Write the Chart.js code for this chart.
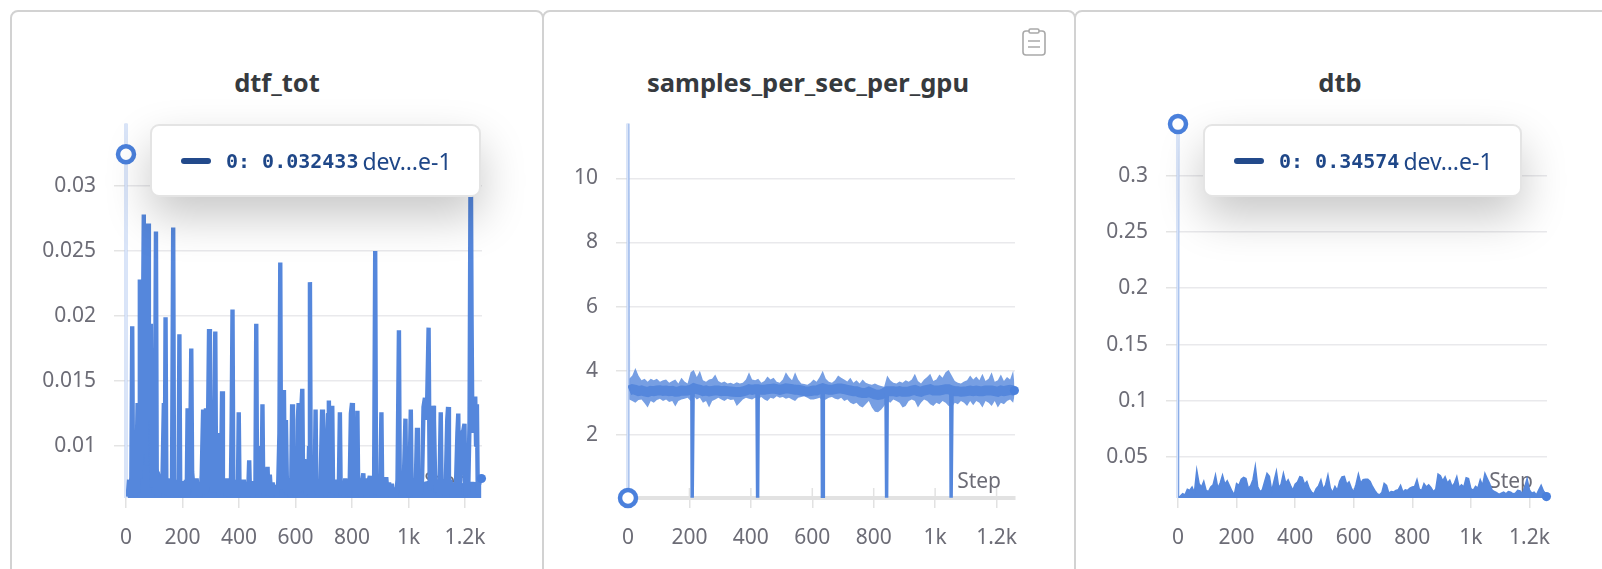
<!DOCTYPE html>
<html>
<head>
<meta charset="utf-8">
<title>Run charts</title>
<script src="https://cdn.jsdelivr.net/npm/chart.js@4"></script>
<style>
html, body { margin: 0; width: 1602px; height: 569px; overflow: hidden; background: #fff; font-family: "Noto Sans", sans-serif; }
.card { position: absolute; top: 10px; height: 620px; box-sizing: border-box; border: 2px solid #d2d2d2; border-radius: 8px; background: #fff; }
.title { position: absolute; top: 64px; width: 400px; margin: 0; text-align: center; font-size: 25.5px; line-height: 36px; font-weight: 700; color: #363a3e; }
canvas { position: absolute; top: 93px; }
.hover-box { position: absolute; top: 124px; height: 73px; box-sizing: border-box; border: 2px solid #e4e4e4; border-radius: 9px; background: #fff;
  box-shadow: 0 20px 45px rgba(0,0,0,.22); display: flex; align-items: center; padding-left: 29px; color: #1f4788; white-space: nowrap; }
.hover-box i { display: inline-block; width: 30px; height: 6px; border-radius: 3px; background: #234a8b; margin-right: 15px; }
.hover-box b { font: 700 20px "DejaVu Sans Mono", monospace; margin-right: 4px; }
.hover-box span { font-size: 23px; }
#clip { position: absolute; left: 1022px; top: 28px; }
</style>
</head>
<body>
<div class="card" style="left:10px;width:534px"></div>
<div class="card" style="left:542px;width:534px"></div>
<div class="card" style="left:1074px;width:600px"></div>
<h3 class="title" style="left:77px">dtf_tot</h3>
<h3 class="title" style="left:608px">samples_per_sec_per_gpu</h3>
<h3 class="title" style="left:1140px">dtb</h3>
<canvas id="chart-dtf" style="left:11px"></canvas>
<canvas id="chart-gpu" style="left:543px"></canvas>
<canvas id="chart-dtb" style="left:1076px"></canvas>
<div class="hover-box" style="left:150px;width:331px"><i></i><b>0: 0.032433</b><span>dev…e-1</span></div>
<div class="hover-box" style="left:1203px;width:319px"><i></i><b>0: 0.34574</b><span>dev…e-1</span></div>
<svg id="clip" width="24" height="28" viewBox="0 0 24 28" fill="none" stroke="#a9a9a9" stroke-width="1.6">
  <rect x="1" y="3" width="22" height="24" rx="3"/><rect x="7" y="1" width="10" height="4" rx="1.5" fill="#fff"/>
  <path d="M6 13h12M6 19h12"/>
</svg>
<script>
const LINE_BLUE = '#5587dc';
const RING_BLUE = '#4a80dc';
const TICK_GREY = '#6c6c76';

const stepTicks = [0, 200, 400, 600, 800, 1000, 1200];
const stepLabels = ['0', '200', '400', '600', '800', '1k', '1.2k'];

const dtfTicks = [0.01, 0.015, 0.02, 0.025, 0.03];
const gpuTicks = [2, 4, 6, 8, 10];
const dtbTicks = [0.05, 0.1, 0.15, 0.2, 0.25, 0.3];

const dtfSteps = [
    0,6,11,15,19,22,25,29,33,37,
    41,44,47,49,52,55,58,60,63,66,
    69,72,75,78,81,85,88,91,95,98,
    102,106,109,113,117,121,125,129,134,137,
    140,143,147,151,155,159,163,167,170,174,
    178,182,186,189,192,196,200,204,208,212,
    215,218,221,225,228,231,234,238,242,246,
    250,254,259,264,268,273,276,280,283,286,
    290,294,297,301,305,309,313,316,319,323,
    327,331,336,340,343,347,352,357,362,367,
    371,374,377,380,384,388,392,396,399,402,
    407,412,417,422,427,432,436,439,444,449,
    454,458,461,464,468,472,476,480,483,486,
    491,496,501,504,509,514,519,524,529,534,
    539,543,546,549,552,555,559,562,566,570,
    575,580,585,588,591,595,600,605,608,611,
    615,619,622,624,627,631,635,639,644,648,
    651,654,658,663,668,671,674,679,684,689,
    694,697,702,707,712,715,718,722,726,730,
    733,738,743,748,753,757,760,765,770,776,
    781,786,791,796,800,803,807,811,815,819,
    822,827,832,836,840,843,848,853,858,863,
    868,873,878,882,885,890,895,900,904,907,
    912,917,921,926,931,936,941,946,951,956,
    961,966,969,973,978,983,989,992,997,1002,
    1005,1008,1011,1016,1021,1026,1030,1033,1038,1043,
    1048,1053,1058,1062,1066,1071,1075,1080,1084,1087,
    1090,1095,1100,1105,1110,1114,1117,1122,1127,1132,
    1137,1140,1143,1148,1153,1158,1163,1168,1173,1176,
    1179,1184,1189,1194,1198,1201,1206,1211,1216,1220,
    1223,1226,1230,1233,1236,1239,1242,1245,1250,1258
];
const dtfValues = [
    .032433,.0061,.0074,.0062,.0076,.0192,.0063,.0073,.0061,.0078,
    .0133,.0064,.0105,.0228,.0075,.0133,.0095,.0190,.0278,.0110,
    .0200,.0085,.0160,.0271,.0120,.0150,.0194,.0068,.0133,.0063,
    .0072,.0265,.0062,.0076,.0061,.0074,.0064,.0073,.0133,.0063,
    .0199,.0062,.0075,.0061,.0073,.0062,.0075,.0268,.0063,.0074,
    .0061,.0072,.0064,.0186,.0062,.0071,.0061,.0073,.0062,.0074,
    .0063,.0129,.0063,.0076,.0110,.0175,.0080,.0070,.0061,.0066,
    .0075,.0062,.0072,.0061,.0078,.0128,.0070,.0064,.0129,.0066,
    .0110,.0190,.0068,.0120,.0064,.0090,.0140,.0188,.0064,.0110,
    .0062,.0076,.0066,.0142,.0064,.0073,.0062,.0075,.0061,.0074,
    .0063,.0120,.0205,.0064,.0072,.0062,.0074,.0063,.0126,.0062,
    .0073,.0061,.0074,.0062,.0072,.0061,.0089,.0062,.0073,.0061,
    .0072,.0064,.0194,.0063,.0100,.0064,.0075,.0070,.0132,.0062,
    .0075,.0063,.0084,.0062,.0078,.0061,.0072,.0062,.0070,.0061,
    .0073,.0110,.0241,.0068,.0130,.0090,.0143,.0064,.0120,.0063,
    .0075,.0061,.0074,.0132,.0063,.0076,.0062,.0075,.0120,.0133,
    .0064,.0110,.0135,.0144,.0066,.0090,.0062,.0085,.0063,.0100,
    .0226,.0065,.0080,.0066,.0072,.0128,.0063,.0074,.0062,.0073,
    .0128,.0062,.0075,.0061,.0110,.0125,.0135,.0064,.0120,.0131,
    .0063,.0074,.0062,.0073,.0064,.0126,.0062,.0072,.0061,.0075,
    .0063,.0072,.0061,.0125,.0133,.0066,.0090,.0062,.0074,.0127,
    .0063,.0075,.0061,.0073,.0079,.0062,.0075,.0063,.0072,.0077,
    .0062,.0075,.0064,.0250,.0063,.0074,.0062,.0073,.0126,.0062,
    .0072,.0061,.0076,.0062,.0072,.0061,.0071,.0060,.0068,.0061,
    .0074,.0189,.0066,.0075,.0062,.0070,.0121,.0064,.0074,.0062,
    .0090,.0128,.0064,.0075,.0061,.0073,.0114,.0062,.0074,.0063,
    .0075,.0130,.0137,.0120,.0135,.0191,.0066,.0125,.0070,.0131,
    .0120,.0064,.0074,.0062,.0073,.0126,.0063,.0074,.0062,.0072,
    .0120,.0130,.0063,.0074,.0061,.0072,.0062,.0071,.0110,.0125,
    .0063,.0074,.0110,.0112,.0117,.0062,.0073,.0063,.0120,.0346,
    .0200,.0110,.0138,.0120,.0138,.0100,.0132,.0063,.0072,.0075
];
// solid floor the spikes stand on
const dtfBedSteps = [
    6,30,55,80,105,130,155,180,205,230,
    255,280,305,330,355,380,405,430,455,480,
    505,530,555,580,605,630,655,680,705,730,
    755,780,805,830,855,880,905,930,955,980,
    1005,1030,1055,1080,1105,1130,1155,1180,1205,1230,
    1258
];
const dtfBedValues = [
    .0070,.0072,.0120,.0130,.0085,.0074,.0072,.0072,.0070,.0074,
    .0066,.0070,.0074,.0073,.0072,.0071,.0070,.0072,.0070,.0073,
    .0070,.0067,.0074,.0073,.0071,.0072,.0068,.0070,.0069,.0071,
    .0070,.0069,.0071,.0072,.0070,.0071,.0070,.0068,.0064,.0070,
    .0072,.0071,.0072,.0073,.0071,.0070,.0069,.0070,.0072,.0072,
    .0071
];

const gpuSteps = [
    4,14,24,34,44,54,64,74,84,94,
    104,114,124,134,144,154,164,174,184,194,
    204,214,224,234,244,254,264,274,284,294,
    304,314,324,334,344,354,364,374,384,394,
    404,414,424,434,444,454,464,474,484,494,
    504,514,524,534,544,554,564,574,584,594,
    604,614,624,634,644,654,664,674,684,694,
    704,714,724,734,744,754,764,774,784,794,
    804,814,824,834,844,854,864,874,884,894,
    904,914,924,934,944,954,964,974,984,994,
    1004,1014,1024,1034,1044,1054,1064,1074,1084,1094,
    1104,1114,1124,1134,1144,1154,1164,1174,1184,1194,
    1204,1214,1224,1234,1244,1254,1258
];
const gpuMain = [
    3.38,3.42,3.4,3.36,3.38,3.35,3.33,3.37,3.36,3.38,
    3.39,3.37,3.38,3.36,3.37,3.34,3.35,3.38,3.37,3.38,
    3.4,3.45,3.42,3.4,3.36,3.38,3.35,3.37,3.38,3.38,
    3.36,3.37,3.36,3.35,3.34,3.33,3.33,3.35,3.38,3.42,
    3.4,3.42,3.42,3.4,3.4,3.42,3.43,3.44,3.42,3.4,
    3.42,3.45,3.44,3.42,3.4,3.4,3.38,3.36,3.35,3.36,
    3.38,3.38,3.42,3.45,3.42,3.4,3.4,3.42,3.44,3.44,
    3.42,3.4,3.38,3.36,3.36,3.32,3.3,3.3,3.34,3.3,
    3.26,3.24,3.26,3.3,3.36,3.36,3.36,3.34,3.36,3.34,
    3.34,3.35,3.38,3.4,3.36,3.34,3.38,3.4,3.42,3.38,
    3.38,3.38,3.4,3.42,3.42,3.38,3.36,3.36,3.34,3.35,
    3.36,3.38,3.36,3.38,3.36,3.36,3.38,3.38,3.38,3.36,
    3.34,3.38,3.36,3.38,3.4,3.38,3.38
];
const gpuHigh = [
    3.75,3.85,4.08,3.85,3.7,3.75,3.65,3.75,3.7,3.75,
    3.65,3.7,3.72,3.62,3.68,3.72,3.6,3.78,3.66,3.6,
    3.95,4.02,3.8,4.0,3.7,3.65,3.72,3.75,3.88,3.68,
    3.62,3.66,3.6,3.62,3.58,3.64,3.6,3.62,3.72,3.95,
    3.72,3.7,3.75,3.62,3.68,3.82,3.72,3.78,3.65,3.62,
    3.72,3.95,3.8,3.7,3.95,3.72,3.6,3.58,3.56,3.62,
    3.72,3.65,3.8,4.0,3.75,3.65,3.62,3.7,3.85,3.78,
    3.72,3.66,3.78,3.62,3.7,3.6,3.72,3.62,3.58,3.56,
    3.6,3.55,3.52,3.5,3.85,3.7,3.62,3.6,3.66,3.62,
    3.7,3.65,3.72,3.9,3.68,3.6,3.72,3.8,3.9,3.68,
    3.72,3.88,3.78,3.95,4.02,3.85,3.68,3.62,3.6,3.66,
    3.7,3.85,3.72,3.82,3.7,3.9,3.68,3.75,3.95,3.65,
    3.7,3.88,3.68,3.8,3.72,4.0,3.6
];
const gpuLow = [
    3.1,3.05,3.0,3.08,3.1,2.98,2.85,3.05,3.0,3.08,
    3.12,3.05,3.1,3.02,3.05,2.88,3.05,3.1,3.12,3.15,
    3.05,3.2,3.1,3.15,3.0,3.05,2.85,3.05,3.1,3.15,
    3.1,3.05,3.12,3.08,3.1,2.9,3.0,3.1,3.15,3.12,
    3.1,3.15,3.12,3.18,3.1,3.05,3.15,3.12,3.2,3.15,
    3.18,3.12,3.15,3.1,3.05,3.15,3.18,3.2,3.15,3.1,
    3.1,3.12,3.15,3.05,3.1,3.15,3.18,3.12,3.1,3.15,
    3.05,3.1,3.0,2.95,3.0,2.9,2.85,2.95,3.05,2.85,
    2.72,2.7,2.78,2.9,3.05,3.0,3.1,3.05,3.0,2.85,
    2.9,3.05,3.1,3.05,2.85,3.0,3.1,3.05,2.95,2.9,
    3.0,2.95,3.05,3.0,2.9,2.85,3.0,2.95,3.05,3.0,
    2.9,3.05,2.92,3.05,3.0,2.85,3.05,3.0,2.9,3.05,
    2.85,3.0,2.95,3.05,3.1,3.0,3.2
];
// first spike and the periodic drops to zero
const gpuSpikeSteps = [0, 1, 4];
const gpuSpikeValues = [0.025, 11.71, 3.38];
const gpuDipSteps = [208,209,211,212,213, 420,421,423,424,425, 632,633,635,636,637, 840,841,843,844,845, 1051,1052,1054,1055];
const gpuDipValues = [3.3,0.03,0.03,3.3,null, 3.3,0.03,0.03,3.3,null, 3.3,0.03,0.03,3.3,null, 3.3,0.03,0.03,3.3,null, 3.3,0.03,0.03,3.3];

const dtbSteps = [
    0,3,
    8,16,24,32,40,48,56,64,72,80,
    88,96,104,112,120,128,136,144,152,160,
    168,176,184,192,200,208,216,224,232,240,
    248,256,264,272,280,288,296,304,312,320,
    328,336,344,352,360,368,376,384,392,400,
    408,416,424,432,440,448,456,464,472,480,
    488,496,504,512,520,528,536,544,552,560,
    568,576,584,592,600,608,616,624,632,640,
    648,656,664,672,680,688,696,704,712,720,
    728,736,744,752,760,768,776,784,792,800,
    808,816,824,832,840,848,856,864,872,880,
    888,896,904,912,920,928,936,944,952,960,
    968,976,984,992,1000,1008,1016,1024,1032,1040,
    1048,1056,1064,1072,1080,1088,1096,1104,1112,1120,
    1128,1136,1144,1152,1160,1168,1176,1184,1192,1200,
    1208,1216,1224,1232,1240,1248,1256,1258
];
const dtbValues = [
    .34574,.0145,
    .0155,.0175,.0165,.0215,.0205,.0235,.0185,.0385,.0265,.0235,
    .0285,.0205,.0195,.0235,.0255,.0340,.0225,.0270,.0340,.0260,
    .0290,.0245,.0200,.0165,.0265,.0250,.0305,.0320,.0310,.0225,
    .0245,.0300,.0420,.0240,.0195,.0210,.0285,.0356,.0330,.0200,
    .0290,.0376,.0230,.0260,.0356,.0270,.0300,.0250,.0205,.0260,
    .0280,.0326,.0320,.0260,.0285,.0225,.0190,.0175,.0220,.0245,
    .0297,.0215,.0255,.0340,.0225,.0185,.0240,.0205,.0285,.0325,
    .0330,.0260,.0280,.0225,.0190,.0260,.0350,.0270,.0300,.0305,
    .0305,.0285,.0240,.0205,.0175,.0165,.0185,.0267,.0250,.0180,
    .0195,.0190,.0205,.0210,.0250,.0190,.0210,.0205,.0225,.0235,
    .0240,.0300,.0215,.0205,.0265,.0235,.0255,.0230,.0195,.0215,
    .0350,.0335,.0290,.0326,.0270,.0295,.0240,.0270,.0326,.0230,
    .0255,.0235,.0317,.0310,.0220,.0205,.0240,.0225,.0300,.0250,
    .0356,.0310,.0265,.0210,.0195,.0185,.0170,.0180,.0190,.0175,
    .0195,.0190,.0175,.0180,.0205,.0200,.0175,.0235,.0310,.0210,
    .0180,.0190,.0165,.0210,.0250,.0200,.0175,.0150
];

const toXY = (steps, values) => steps.map((s, i) => ({ x: s, y: values[i] }));

// the jump from the first logged value runs under the hover line, so hide that one segment
const hideFirstSegment = { borderColor: c => (c.p0DataIndex === 0 ? 'transparent' : undefined) };

// x tick stubs above the baseline, hover line at step 0, and the "Step" axis word
const axisExtras = {
    id: 'axisExtras',
    beforeDatasetsDraw(chart) {
        const { ctx, chartArea, scales } = chart;
        ctx.save();
        ctx.strokeStyle = '#e2e2e2';
        ctx.lineWidth = 1.5;
        stepTicks.forEach(t => {
            const px = scales.x.getPixelForValue(t);
            ctx.beginPath();
            ctx.moveTo(px, chartArea.bottom);
            ctx.lineTo(px, chartArea.bottom - 10);
            ctx.stroke();
        });
        ctx.font = '21px "Noto Sans"';
        ctx.fillStyle = TICK_GREY;
        ctx.textAlign = 'right';
        ctx.fillText('Step', chartArea.right - 14, chartArea.bottom - 10);
        const x0 = scales.x.getPixelForValue(0);
        ctx.strokeStyle = '#b4caf1';
        ctx.lineWidth = 3;
        ctx.beginPath();
        ctx.moveTo(x0, chartArea.top);
        ctx.lineTo(x0, chartArea.bottom);
        ctx.stroke();
        ctx.strokeStyle = '#fff';
        ctx.lineWidth = 1;
        ctx.stroke();
        ctx.restore();
    }
};

function marker(step, value, open) {
    return {
        data: [{ x: step, y: value }],
        clip: false,
        showLine: false,
        pointRadius: open ? 8 : 4.6,
        pointBorderWidth: open ? 4.5 : 0,
        pointBackgroundColor: open ? '#fff' : RING_BLUE,
        pointBorderColor: RING_BLUE
    };
}

function drawChart(id, width, box, yMin, yMax, yTicks, datasets) {
    const canvas = document.getElementById(id);
    canvas.style.width = width + 'px';
    canvas.style.height = '476px';
    canvas.width = width;
    canvas.height = 476;
    return new Chart(canvas, {
        type: 'line',
        data: { datasets },
        plugins: [axisExtras],
        options: {
            responsive: false,
            animation: false,
            devicePixelRatio: 1,
            layout: { padding: { top: 16, right: box.right, left: 0, bottom: 0 } },
            elements: { point: { radius: 0 } },
            plugins: { legend: { display: false }, tooltip: { enabled: false } },
            scales: {
                x: {
                    type: 'linear',
                    min: 0,
                    max: 1260,
                    afterFit(s) { s.height = 71; },
                    afterBuildTicks(s) { s.ticks = stepTicks.map(v => ({ value: v })); },
                    border: { display: box.thickBase, color: '#e2e2e2', width: 4 },
                    grid: { drawOnChartArea: false, tickLength: 10, tickColor: '#e2e2e2', lineWidth: 1.5 },
                    ticks: {
                        color: TICK_GREY,
                        font: { size: 21, family: '"Noto Sans"' },
                        padding: 17,
                        maxRotation: 0,
                        autoSkip: false,
                        callback: v => stepLabels[stepTicks.indexOf(v)]
                    }
                },
                y: {
                    min: yMin,
                    max: yMax,
                    afterFit(s) { s.width = box.left; },
                    afterBuildTicks(s) { s.ticks = yTicks.map(v => ({ value: v })); },
                    border: { display: false },
                    grid: { color: '#e9e9ec', tickColor: '#e4e4e4', tickLength: 12, lineWidth: 1.5 },
                    ticks: {
                        color: TICK_GREY,
                        font: { size: 21, family: '"Noto Sans"' },
                        padding: 18,
                        autoSkip: false,
                        callback: v => String(v)
                    }
                }
            }
        }
    });
}

drawChart('chart-dtf', 531, { left: 115, right: 60, thickBase: false }, 0.006, 0.03479, dtfTicks, [
    marker(0, dtfValues[0], true),
    marker(1258, dtfValues[dtfValues.length - 1], false),
    {
        data: toXY(dtfSteps, dtfValues),
        borderColor: LINE_BLUE,
        borderWidth: 4.4,
        borderJoinStyle: 'bevel',
        segment: hideFirstSegment
    },
    {
        data: toXY(dtfBedSteps, dtfBedValues),
        borderColor: LINE_BLUE,
        borderWidth: 1.5,
        fill: 'start',
        backgroundColor: LINE_BLUE
    }
]);

drawChart('chart-gpu', 531, { left: 85, right: 59, thickBase: true }, 0.025, 11.71, gpuTicks, [
    marker(0, gpuSpikeValues[0], true),
    marker(1258, gpuMain[gpuMain.length - 1], false),
    { data: toXY(gpuSpikeSteps, gpuSpikeValues), borderColor: 'rgba(85,135,220,.35)', borderWidth: 2 },
    { data: toXY(gpuDipSteps, gpuDipValues), borderColor: LINE_BLUE, borderWidth: 3.5, spanGaps: false },
    { data: toXY(gpuSteps, gpuMain), borderColor: LINE_BLUE, borderWidth: 10 },
    { data: toXY(gpuSteps, gpuHigh), borderColor: 'rgba(85,135,220,0)', borderWidth: 0, fill: '+1', backgroundColor: 'rgba(85,135,220,.8)' },
    { data: toXY(gpuSteps, gpuLow), borderColor: 'rgba(85,135,220,0)', borderWidth: 0 }
]);

drawChart('chart-dtb', 526, { left: 102, right: 55, thickBase: false }, 0.01374, 0.3462, dtbTicks, [
    marker(0, dtbValues[0], true),
    marker(1258, dtbValues[dtbValues.length - 1], false),
    {
        data: toXY(dtbSteps, dtbValues),
        borderColor: LINE_BLUE,
        borderWidth: 1.5,
        fill: 'start',
        backgroundColor: LINE_BLUE,
        segment: hideFirstSegment
    }
]);
</script>
</body>
</html>
